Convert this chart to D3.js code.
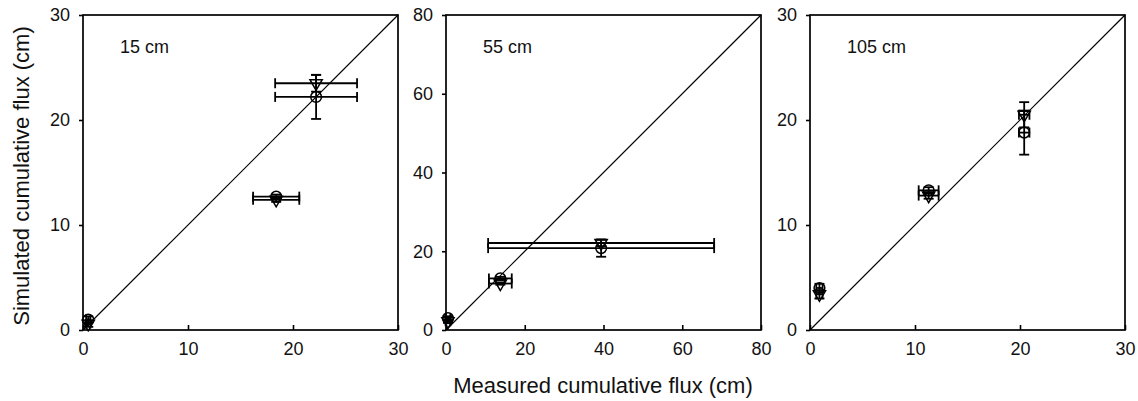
<!DOCTYPE html>
<html>
<head>
<meta charset="utf-8">
<script src="https://cdn.jsdelivr.net/npm/d3@7"></script>
<style>
  html, body { margin: 0; padding: 0; background: #fff; }
  svg { display: block; font-family: "Liberation Sans", Arial, sans-serif; }
</style>
</head>
<body>
<svg id="chart" width="1138" height="401"></svg>
<script>
// Panel depths and axis ranges (measured vs simulated share the same range)
const depths = ["15 cm", "55 cm", "105 cm"];
const axisMax = [30, 80, 30];
const tickValues = [[0, 10, 20, 30], [0, 20, 40, 60, 80], [0, 10, 20, 30]];

// Measured cumulative flux and its standard deviation, per panel
const measured = [[0.5, 18.4, 22.2], [0.5, 13.8, 39.4], [0.9, 11.3, 20.4]];
const measuredErr = [[0.2, 2.2, 3.9], [0.6, 2.9, 28.7], [0.3, 0.95, 0.5]];

// Simulated cumulative flux, first model (open circles)
const simCircle = [[1.0, 12.7, 22.2], [3.0, 13.1, 20.8], [4.0, 13.3, 18.8]];
const simCircleErr = [[0.3, 0.2, 2.1], [0.5, 0.4, 2.2], [0.4, 0.3, 2.1]];

// Simulated cumulative flux, second model (open down-triangles)
const simTriangle = [[0.6, 12.4, 23.5], [2.2, 11.8, 22.1], [3.4, 12.8, 20.5]];
const simTriangleErr = [[0.3, 0.2, 0.8], [0.4, 0.3, 0.8], [0.4, 0.3, 1.2]];

const svg = d3.select("#chart");
const panelLeft = [83, 446, 810];
const panelSize = 315;
const plotTop = 15;
const capW = 5;

depths.forEach((label, p) => {
  const x = d3.scaleLinear().domain([0, axisMax[p]]).range([panelLeft[p], panelLeft[p] + panelSize]);
  const y = d3.scaleLinear().domain([0, axisMax[p]]).range([plotTop + panelSize, plotTop]);
  const g = svg.append("g");

  // axes
  const yAxis = g.append("g")
    .attr("transform", `translate(${panelLeft[p]},0)`)
    .call(d3.axisLeft(y).tickValues(tickValues[p]).tickSize(4).tickPadding(9).tickFormat(d3.format("d")));
  const xAxis = g.append("g")
    .attr("transform", `translate(0,${plotTop + panelSize})`)
    .call(d3.axisBottom(x).tickValues(tickValues[p]).tickSize(-5).tickPadding(12).tickFormat(d3.format("d")));
  [yAxis, xAxis].forEach(a => {
    a.select(".domain").remove();
    a.selectAll("line").attr("stroke", "#000").attr("stroke-width", 1.6);
    a.selectAll("text").attr("fill", "#111").style("font-size", "18px");
  });

  // frame
  g.append("rect")
    .attr("x", x(0)).attr("y", y(axisMax[p]))
    .attr("width", x(axisMax[p]) - x(0)).attr("height", y(0) - y(axisMax[p]))
    .attr("fill", "none").attr("stroke", "#000").attr("stroke-width", 1.7);

  // 1:1 line
  g.append("line")
    .attr("x1", x(0)).attr("y1", y(0))
    .attr("x2", x(axisMax[p])).attr("y2", y(axisMax[p]))
    .attr("stroke", "#000").attr("stroke-width", 1.2);

  // depth label
  g.append("text")
    .attr("x", panelLeft[p] + 37).attr("y", 53)
    .attr("fill", "#111")
    .style("font-size", "18px").text(label);

  const series = [
    { sim: simCircle[p], err: simCircleErr[p], shape: "circle" },
    { sim: simTriangle[p], err: simTriangleErr[p], shape: "triangle" }
  ];

  series.forEach(s => {
    measured[p].forEach((mx, i) => {
      const my = s.sim[i];
      const xe = measuredErr[p][i];
      const ye = s.err[i];
      const eb = g.append("g").attr("stroke", "#000").attr("stroke-width", 1.8).attr("fill", "none");
      // horizontal error bar (measured)
      eb.append("line").attr("x1", x(mx - xe)).attr("x2", x(mx + xe)).attr("y1", y(my)).attr("y2", y(my));
      eb.append("line").attr("x1", x(mx - xe)).attr("x2", x(mx - xe)).attr("y1", y(my) - capW).attr("y2", y(my) + capW);
      eb.append("line").attr("x1", x(mx + xe)).attr("x2", x(mx + xe)).attr("y1", y(my) - capW).attr("y2", y(my) + capW);
      // vertical error bar (simulated)
      eb.append("line").attr("x1", x(mx)).attr("x2", x(mx)).attr("y1", y(my - ye)).attr("y2", y(my + ye));
      eb.append("line").attr("x1", x(mx) - capW).attr("x2", x(mx) + capW).attr("y1", y(my - ye)).attr("y2", y(my - ye));
      eb.append("line").attr("x1", x(mx) - capW).attr("x2", x(mx) + capW).attr("y1", y(my + ye)).attr("y2", y(my + ye));
    });
  });

  series.forEach(s => {
    const sym = s.shape === "circle"
      ? d3.symbol().type(d3.symbolCircle).size(90)
      : d3.symbol().type(d3.symbolTriangle).size(65);
    g.selectAll(null).data(measured[p].map((mx, i) => [mx, s.sim[i]]))
      .enter().append("path")
      .attr("d", sym)
      .attr("transform", d => `translate(${x(d[0])},${y(d[1])})` + (s.shape === "triangle" ? " rotate(180)" : ""))
      .attr("fill", "none").attr("stroke", "#000").attr("stroke-width", 1.5);
  });
});

// axis titles
svg.append("text")
  .attr("transform", "translate(29,176) rotate(-90)")
  .attr("text-anchor", "middle")
  .attr("fill", "#111")
  .style("font-size", "22px")
  .text("Simulated cumulative flux (cm)");

svg.append("text")
  .attr("x", 603).attr("y", 393)
  .attr("text-anchor", "middle")
  .attr("fill", "#111")
  .style("font-size", "22px")
  .text("Measured cumulative flux (cm)");
</script>
</body>
</html>
